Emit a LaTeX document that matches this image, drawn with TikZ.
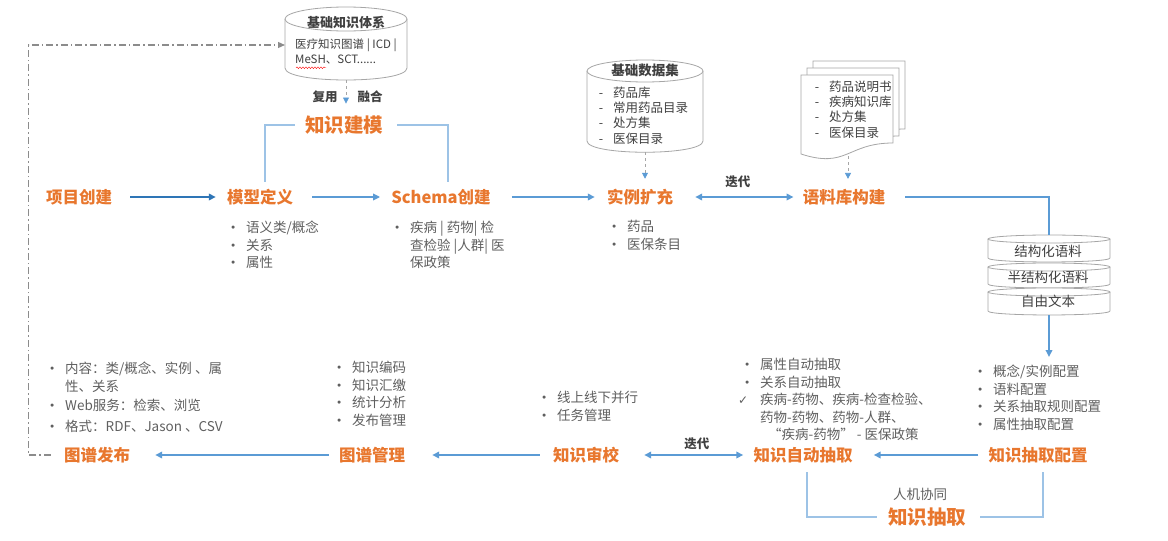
\documentclass[tikz,border=0pt]{standalone}
\usepackage{fontspec}
\setmainfont{Noto Sans CJK SC}
\newfontfamily\symfont{DejaVu Sans}
\usepackage{xcolor}
\usepackage{tikz}
\usetikzlibrary{arrows.meta,positioning,calc,decorations.pathmorphing}
\definecolor{FlowBlue}{HTML}{5B9BD5}
\definecolor{FlowNavy}{HTML}{2E75B6}
\definecolor{FrameBlue}{HTML}{9DC3E6}
\definecolor{HeadOrange}{HTML}{E8772E}
\definecolor{BodyGray}{HTML}{5F5F5F}
\definecolor{InkGray}{HTML}{404040}
\definecolor{EdgeGray}{HTML}{A6A6A6}
\definecolor{ReuseGray}{HTML}{8C8C8C}
\newcommand{\bul}{\llap{\raisebox{1pt}{\symfont\fontsize{10.5}{10}\selectfont •}\hspace{10pt}}}
\newcommand{\dsh}{\llap{-\hspace{10pt}}}
\newcommand{\chk}{\llap{{\symfont\fontsize{12}{12}\selectfont ✓}\hspace{12pt}}}

\begin{document}
\begin{tikzpicture}[x=1pt,y=-1pt,>={Triangle[length=7pt,width=6.5pt]}]
  \tikzset{head/.style={inner sep=0pt,text=HeadOrange,font=\bfseries\fontsize{16.5}{18}\selectfont},
    bighead/.style={head,font=\bfseries\fontsize{19.5}{21}\selectfont},
    note/.style={inner sep=0pt,anchor=north west,align=left,text=BodyGray,
      font=\fontsize{13.5}{17.5}\selectfont},
    cannote/.style={inner sep=0pt,anchor=north west,align=left,text=InkGray,
      font=\fontsize{12.5}{15.3}\selectfont},
    tag/.style={inner sep=0pt,text=InkGray,font=\bfseries\fontsize{12.5}{14}\selectfont},
    flow/.style={->,FlowBlue,line width=2pt},
    twoway/.style={<->,FlowBlue,line width=2pt},
    bracket/.style={FrameBlue,line width=1.2pt},
    feed/.style={-{Triangle[length=6pt,width=6pt,color=FlowBlue]},EdgeGray,dashed,line width=0.8pt},
    can/.style={draw=EdgeGray,fill=white,line width=0.8pt}}
  \useasboundingbox (0,0) rectangle (1168,541);

  % knowledge base (top cylinder)
  \draw[can] (285,19) -- (285,68) .. controls (285,84) and (407,84) .. (407,68) -- (407,19);
  \draw[can] (346,19) ellipse [x radius=61, y radius=12];
  \node[tag,font=\bfseries\fontsize{13}{14}\selectfont] (kbtitle) at (346,23) {基础知识体系};
  \node[cannote,font=\fontsize{11.5}{15}\selectfont] (kbtext) at (295,39) {医疗知识图谱 | ICD |\\MeSH、SCT......};
  \draw[red,decorate,decoration={snake,amplitude=0.8pt,segment length=3pt}]
    ($(kbtext.south west)+(1,3)$) -- ++(30,0);
  \coordinate (kb-in) at (285,45);
  \coordinate (kb-out) at (346,80);

  % data set cylinder
  \draw[can] (587,71) -- (587,141) .. controls (587,156) and (703,156) .. (703,141) -- (703,71);
  \draw[can] (645,71) ellipse [x radius=58, y radius=11];
  \node[tag,font=\bfseries\fontsize{13.5}{14}\selectfont] (dbtitle) at (645,70) {基础数据集};
  \node[cannote] (dbtext) at (613,86.5) {\dsh 药品库\\\dsh 常用药品目录\\\dsh 处方集\\\dsh 医保目录};
  \coordinate (db-out) at (645,152);

  % document stack
  \foreach \dx/\dy in {12/-14,6/-7,0/0}
    \draw[can] (801+\dx,75+\dy) -- (893+\dx,75+\dy) -- (893+\dx,143+\dy)
      .. controls (847+\dx,143+\dy) and (847+\dx,169+\dy) .. (801+\dx,154+\dy) -- cycle;
  \node[cannote] (doctext) at (829,80.5) {\dsh 药品说明书\\\dsh 疾病知识库\\\dsh 处方集\\\dsh 医保目录};
  \coordinate (doc-out) at (848,156);

  % corpus stack
  \foreach \t/\b in {235/262,263/288,288/315} {
    \draw[can] (988,\t+4) -- (988,\b-4) .. controls (988,\b+1.3) and (1110,\b+1.3) .. (1110,\b-4) -- (1110,\t+4);
    \draw[can] (1049,\t+4) ellipse [x radius=61, y radius=4];
  }
  \node[tag,font=\fontsize{13.5}{14}\selectfont] (st1) at (1048,251) {结构化语料};
  \node[tag,font=\fontsize{13.5}{14}\selectfont] (st2) at (1048,277) {半结构化语料};
  \node[tag,font=\fontsize{13.5}{14}\selectfont] (st3) at (1048,301) {自由文本};
  \coordinate (st-top) at (1049,235);
  \coordinate (st-bot) at (1049,315);
  \coordinate (cfg-in) at (1049,357);

  % stages
  \node[head] (proj) at (79,197) {项目创建};
  \node[head] (model) at (260,197) {模型定义};
  \node[head] (schema) at (441,197) {Schema创建};
  \node[head] (inst) at (640,197) {实例扩充};
  \node[head] (corpus) at (844,197) {语料库构建};
  \node[head] (cfg) at (1038,455) {知识抽取配置};
  \node[head] (auto) at (803,455) {知识自动抽取};
  \node[head] (review) at (586,455) {知识审校};
  \node[head] (mgmt) at (372,455) {图谱管理};
  \node[head] (pub) at (97,455) {图谱发布};
  \node[bighead] (kmodel) at (344,125) {知识建模};
  \node[bighead] (kext) at (927,517) {知识抽取};
  \node[tag] (reuse) at (325,97) {复用};
  \node[tag] (merge) at (370,97) {融合};
  \node[inner sep=0pt,text=BodyGray,font=\fontsize{13.5}{15}\selectfont] (hm) at (920,494) {人机协同};

  % notes
  \node[note] (modelnote) at (246,221) {\bul 语义类/概念\\\bul 关系\\\bul 属性};
  \node[note] (schemanote) at (410,221) {\bul 疾病 | 药物| 检\\查检验 |人群| 医\\保政策};
  \node[note] (instnote) at (627,220) {\bul 药品\\\bul 医保条目};
  \node[note] (cfgnote) at (993,365) {\bul 概念/实例配置\\\bul 语料配置\\\bul 关系抽取规则配置\\\bul 属性抽取配置};
  \node[note] (autonote) at (760,358) {\bul 属性自动抽取\\\bul 关系自动抽取\\\chk 疾病-药物、疾病-检查检验、\\药物-药物、药物-人群、\\\hspace{8pt}“疾病-药物” - 医保政策};
  \node[note] (reviewnote) at (557,391) {\bul 线上线下并行\\\bul 任务管理};
  \node[note] (mgmtnote) at (352,361) {\bul 知识编码\\\bul 知识汇缴\\\bul 统计分析\\\bul 发布管理};
  \node[note] (pubnote) at (65,362) {\bul 内容：类/概念、实例 、属\\性、关系\\[2pt]\bul Web服务：检索、浏览\\[3pt]\bul 格式：RDF、Jason 、CSV};

  % connectors
  \draw[flow,FlowNavy,line width=2.5pt,shorten <=18pt,shorten >=11pt] (proj) -- (model);
  \draw[flow,shorten <=19pt,shorten >=11pt] (model) -- (schema);
  \draw[flow,shorten <=21pt,shorten >=12pt] (schema) -- (inst);
  \draw[twoway,shorten <=22pt,shorten >=9pt] (inst) -- node[tag,above=8pt] (iter1) {迭代} (corpus);
  \draw[FlowBlue,line width=2pt,shorten <=20pt] (corpus.east) -| (st-top);
  \draw[flow] (st-bot) -- (cfg-in);
  \draw[flow,shorten <=10pt,shorten >=21pt] (cfg) -- (auto);
  \draw[twoway,shorten <=10pt,shorten >=25pt] (auto) -- node[tag,above=4pt,pos=0.42] (iter2) {迭代} (review);
  \draw[flow,shorten <=13pt,shorten >=27pt] (review) -- (mgmt);
  \draw[flow,shorten <=10pt,shorten >=25pt] (mgmt) -- (pub);
  \draw[ReuseGray,dash pattern=on 7pt off 3pt on 1.5pt off 3pt,line width=1.2pt,-{Triangle[length=7pt,width=6pt]}]
    ([xshift=-13pt]pub.west) -- ++(-22,0) |- (kb-in);
  \draw[feed,shorten >=12pt] (kb-out) -- (kb-out |- kmodel.north);
  \draw[feed,shorten >=10pt] (db-out) -- (db-out |- inst.north);
  \draw[feed,shorten >=10pt] (doc-out) -- (doc-out |- corpus.north);
  \draw[bracket,shorten <=10pt,shorten >=7pt] (kmodel.west) -| ([xshift=5pt]model.north);
  \draw[bracket,shorten <=14pt,shorten >=7pt] (kmodel.east) -| ([xshift=7pt]schema.north);
  \draw[bracket,shorten <=11pt,shorten >=9pt] (kext.west) -| ([xshift=4pt]auto.south);
  \draw[bracket,shorten <=14pt,shorten >=9pt] (kext.east) -| ([xshift=5pt]cfg.south);
\end{tikzpicture}
\end{document}
